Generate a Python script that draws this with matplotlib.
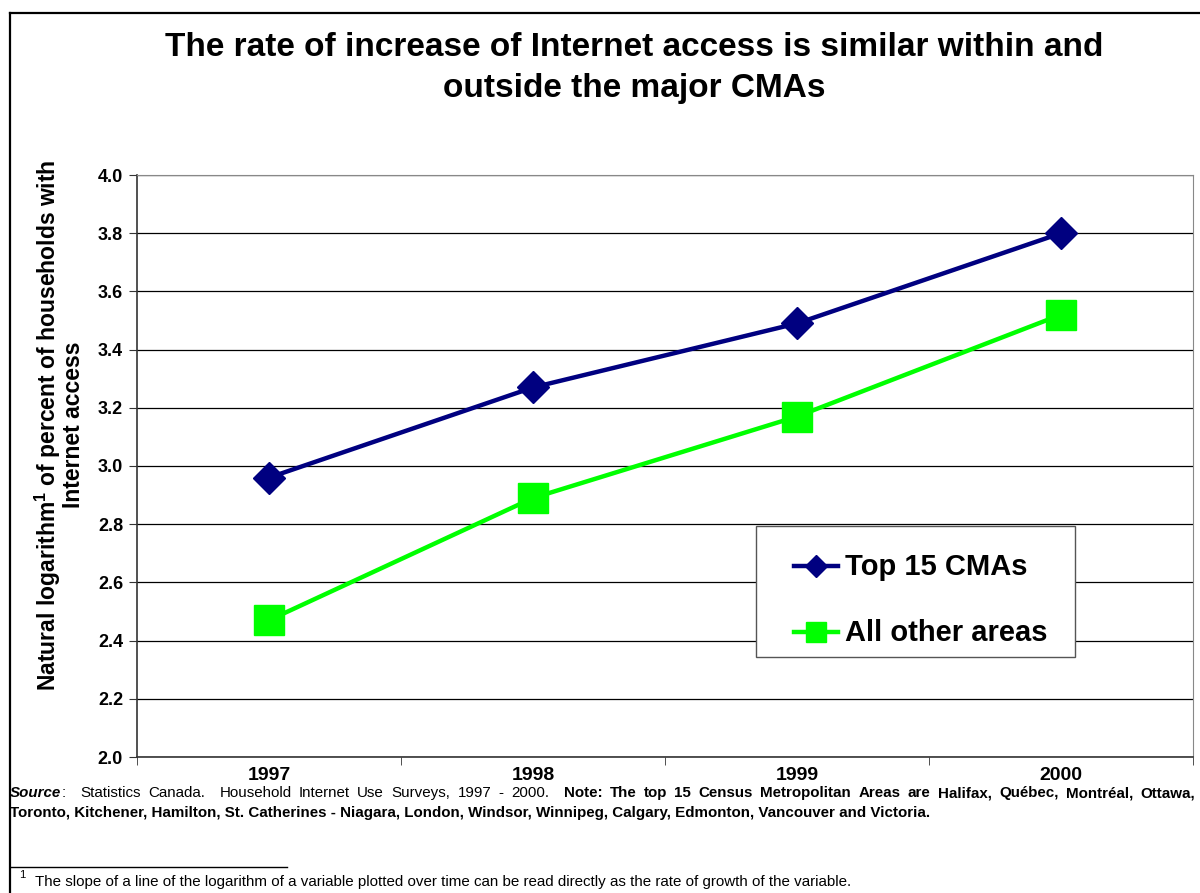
import matplotlib
matplotlib.use("Agg")
import matplotlib.pyplot as plt
from matplotlib.lines import Line2D
from matplotlib.patches import Rectangle

plt.rcParams['font.family'] = ['Liberation Sans', 'DejaVu Sans']
plt.rcParams['mathtext.fontset'] = 'custom'
plt.rcParams['mathtext.rm'] = 'Liberation Sans'
plt.rcParams['mathtext.bf'] = 'Liberation Sans:bold'

years = ['1997', '1998', '1999', '2000']
top15 = [2.96, 3.27, 3.49, 3.80]
other_areas = [2.47, 2.89, 3.17, 3.52]
series_names = ['Top 15 CMAs', 'All other areas']
y_ticks = [2.0, 2.2, 2.4, 2.6, 2.8, 3.0, 3.2, 3.4, 3.6, 3.8, 4.0]

NAVY = '#000080'
GREEN = '#00FF00'

W, H = 1200, 893
fig = plt.figure(figsize=(W / 100, H / 100), dpi=100)
fig.patch.set_facecolor('white')


def fx(px):
    return px / W


def fy(py):
    return 1 - py / H


ax = fig.add_axes([fx(137), fy(757), (1193 - 137) / W, (757 - 175) / H])
x = list(range(len(years)))

styles = [dict(color=NAVY, marker='D', ms=16.5), dict(color=GREEN, marker='s', ms=21)]
for vals, name, st, z in zip([top15, other_areas], series_names, styles, [4, 3]):
    ax.plot(x, vals, color=st['color'], lw=3.2, marker=st['marker'], ms=st['ms'],
            mec=st['color'], mfc=st['color'], label=name, zorder=z)

ax.set_xlim(-0.5, len(years) - 0.5)
ax.set_ylim(2.0, 4.0)
ax.set_yticks(y_ticks)
ax.set_yticklabels(['%.1f' % v for v in y_ticks], fontsize=13, fontweight='bold')
ax.yaxis.grid(True, color='black', lw=0.9)
ax.set_axisbelow(True)

# category labels in the middle, tick marks between categories
ax.set_xticks(x)
ax.set_xticklabels(years, fontsize=14, fontweight='bold')
ax.set_xticks([i - 0.5 for i in range(len(years) + 1)], minor=True)
ax.tick_params(axis='x', which='major', length=0, pad=7)
ax.tick_params(axis='x', which='minor', length=6, direction='out', color='#333333')
ax.tick_params(axis='y', length=6, direction='out', color='#333333', pad=4)

for side in ['left', 'bottom']:
    ax.spines[side].set_color('#333333')
    ax.spines[side].set_linewidth(1.2)
ax.spines['top'].set_color('#888888')
ax.spines['right'].set_color('#888888')

fig.text(fx(634), fy(68),
         'The rate of increase of Internet access is similar within and\noutside the major CMAs',
         ha='center', va='center', fontsize=24, fontweight='bold', linespacing=1.45)

fig.text(fx(59), fy(425),
         'Natural logarithm$^{\\mathbf{1}}$ of percent of households with\nInternet access',
         ha='center', va='center', rotation=90, fontsize=16.5, fontweight='bold',
         multialignment='center', linespacing=0.9)

# legend box drawn by hand so the entries sit where they should
fig.add_artist(Rectangle((fx(756), fy(657)), 319 / W, 131 / H, transform=fig.transFigure,
                         fc='white', ec='#555555', lw=1, zorder=5))
for i, (name, st) in enumerate(zip(series_names, styles)):
    yy = fy(566 + 66 * i)
    fig.add_artist(Line2D([fx(794), fx(838)], [yy, yy], color=st['color'], lw=3.2,
                          zorder=6))
    fig.add_artist(Line2D([fx(816)], [yy], marker=st['marker'], ms=st['ms'] * 0.67,
                          color=st['color'], zorder=7))
    fig.text(fx(845), fy(567 + 66 * i), name, fontsize=21, fontweight='bold',
             va='center', ha='left', zorder=7)

renderer = fig.canvas.get_renderer()


def justified_line(tokens, x0, x1, y0, size):
    """lay words out so the line runs flush from x0 to x1 (pixels)"""
    items = []
    for word, style, gaps in tokens:
        t = fig.text(0, y0, word, fontsize=size, va='baseline', ha='left',
                     fontweight='bold' if 'b' in style else 'normal',
                     fontstyle='italic' if 'i' in style else 'normal')
        items.append((t, t.get_window_extent(renderer).width, gaps))
    total = sum(w for _, w, _ in items)
    n_gaps = sum(g for _, _, g in items[:-1])
    unit = (x1 - x0 - total) / n_gaps
    pos = x0
    for t, w, g in items:
        t.set_x(fx(pos))
        pos += w + g * unit


note_size = 10.9
source_words = [('Source', 'bi', 0), (':', '', 2)]
source_words += [(w, '', 1) for w in 'Statistics Canada.'.split()]
source_words[-1] = ('Canada.', '', 2)
source_words += [(w, '', 1) for w in 'Household Internet Use Surveys, 1997 - 2000.'.split()]
source_words[-1] = ('2000.', '', 2)
source_words += [(w, 'b', 1) for w in
                 'Note: The top 15 Census Metropolitan Areas are Halifax, Qu\u00e9bec, Montr\u00e9al, Ottawa,'.split()]
justified_line(source_words, 10, 1195, fy(797), note_size)

fig.text(fx(10), fy(817),
         'Toronto, Kitchener, Hamilton, St. Catherines - Niagara, London, Windsor, '
         'Winnipeg, Calgary, Edmonton, Vancouver and Victoria.',
         fontsize=note_size, fontweight='bold', va='baseline')

# footnote rule and note
fig.add_artist(Line2D([fx(10), fx(287)], [fy(867), fy(867)], color='black', lw=1))
fig.text(fx(19), fy(878), '1', fontsize=8, va='baseline')
fig.text(fx(35), fy(886),
         'The slope of a line of the logarithm of a variable plotted over time can be '
         'read directly as the rate of growth of the variable.',
         fontsize=note_size, va='baseline')

# page frame
fig.add_artist(Line2D([fx(10), fx(10)], [0, fy(13)], color='black', lw=1.6))
fig.add_artist(Line2D([fx(10), 1], [fy(13), fy(13)], color='black', lw=1.6))

fig.savefig('out.png', dpi=100, facecolor='white')
